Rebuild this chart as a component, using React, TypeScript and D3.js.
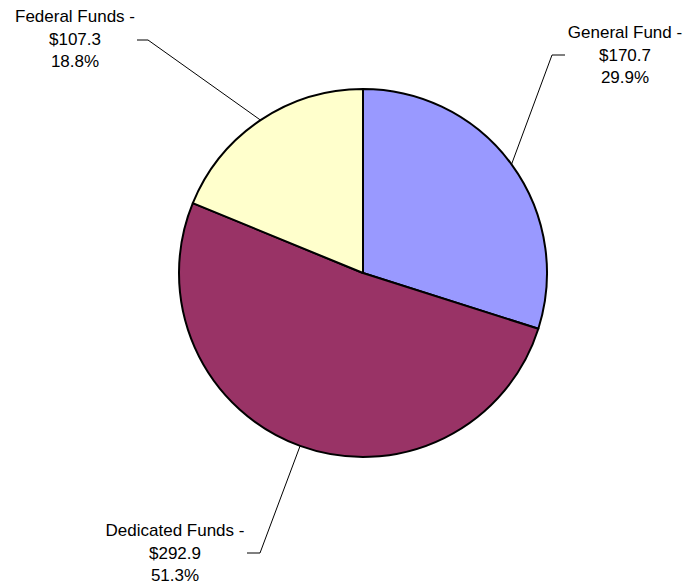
import { useEffect, useRef } from "react";
import * as d3 from "d3";

const categories = ["General Fund", "Dedicated Funds", "Federal Funds"];
const amounts = [170.7, 292.9, 107.3];
const percentLabels = ["29.9%", "51.3%", "18.8%"];
const sliceColors = ["#9999FF", "#993366", "#FFFFCC"];

// label placement: elbow of leader line, end of short horizontal tick, text center and first baseline
const labelLayout = [
  { elbow: [552, 55], tickEnd: 565, textX: 625, textY: 38 },
  { elbow: [260, 553], tickEnd: 247, textX: 175, textY: 536 },
  { elbow: [148, 40], tickEnd: 137, textX: 75, textY: 22 },
];

type Slice = { name: string; value: number; pct: string; color: string };

export default function App() {
  const ref = useRef<SVGSVGElement>(null);

  useEffect(() => {
    if (!ref.current) return;
    const width = 687;
    const height = 587;
    const cx = 363;
    const cy = 273;
    const radius = 184;

    const data: Slice[] = categories.map((name, i) => ({
      name,
      value: amounts[i],
      pct: percentLabels[i],
      color: sliceColors[i],
    }));

    const svg = d3.select(ref.current);
    svg.selectAll("*").remove();
    svg.attr("width", width).attr("height", height);

    const g = svg.append("g").attr("transform", `translate(${cx},${cy})`);

    const pie = d3
      .pie<Slice>()
      .value((d) => d.value)
      .sort(null);

    const arc = d3.arc<d3.PieArcDatum<Slice>>().innerRadius(0).outerRadius(radius);
    const edge = d3.arc<d3.PieArcDatum<Slice>>().innerRadius(radius).outerRadius(radius);

    const arcs = pie(data);

    g.selectAll("path.slice")
      .data(arcs)
      .enter()
      .append("path")
      .attr("class", "slice")
      .attr("d", arc)
      .attr("fill", (d) => d.data.color)
      .attr("stroke", "#000")
      .attr("stroke-width", 2)
      .attr("stroke-linejoin", "round");

    arcs.forEach((d, i) => {
      const lay = labelLayout[i];
      const [ex, ey] = edge.centroid(d);
      const sx = cx + ex;
      const sy = cy + ey;
      svg
        .append("polyline")
        .attr(
          "points",
          `${sx},${sy} ${lay.elbow[0]},${lay.elbow[1]} ${lay.tickEnd},${lay.elbow[1]}`
        )
        .attr("fill", "none")
        .attr("stroke", "#000")
        .attr("stroke-width", 1);

      const lines = [`${d.data.name} -`, `$${d.data.value.toFixed(1)}`, d.data.pct];
      const text = svg
        .append("text")
        .attr("x", lay.textX)
        .attr("y", lay.textY)
        .attr("text-anchor", "middle")
        .style("font-family", "Arial, 'Liberation Sans', sans-serif")
        .style("font-size", "17px")
        .attr("fill", "#000");
      lines.forEach((l, j) => {
        text
          .append("tspan")
          .attr("x", lay.textX)
          .attr("y", lay.textY + j * 22.5)
          .text(l);
      });
    });
  }, []);

  return (
    <div style={{ position: "absolute", left: 0, top: 0 }}>
      <svg ref={ref} style={{ display: "block" }} />
    </div>
  );
}
